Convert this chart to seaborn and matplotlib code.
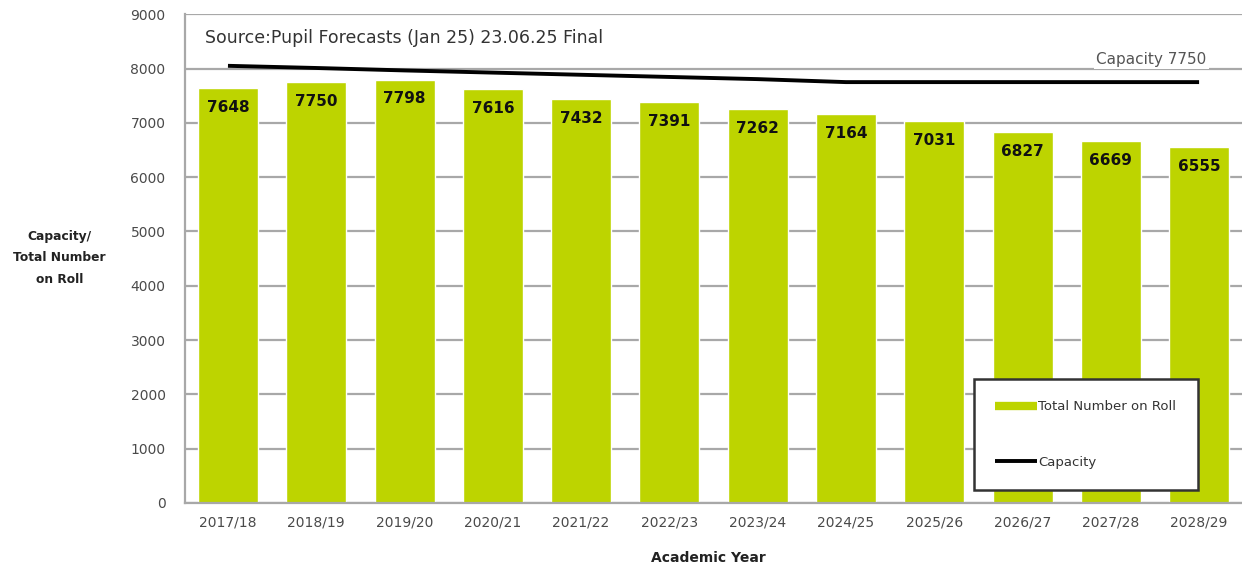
import matplotlib
matplotlib.use("Agg")
import matplotlib.pyplot as plt
from matplotlib.lines import Line2D
import seaborn as sns
import pandas as pd

years = ["2017/18", "2018/19", "2019/20", "2020/21", "2021/22", "2022/23",
         "2023/24", "2024/25", "2025/26", "2026/27", "2027/28", "2028/29"]
total_on_roll = [7648, 7750, 7798, 7616, 7432, 7391, 7262, 7164, 7031, 6827, 6669, 6555]
capacity = [8050, 8010, 7965, 7925, 7885, 7845, 7805, 7750, 7750, 7750, 7750, 7750]
y_ticks = [0, 1000, 2000, 3000, 4000, 5000, 6000, 7000, 8000, 9000]

BAR_GREEN = "#BDD400"
GRID_GREY = "#A8A8A8"
TEXT_GREY = "#4A4A4A"

sns.set_style("white")
plt.rcParams["font.family"] = ["DejaVu Sans"]

df = pd.DataFrame({"year": years, "roll": total_on_roll, "capacity": capacity})

fig = plt.figure(figsize=(12.42, 5.69), dpi=100)
ax = fig.add_axes([0.149, 0.116, 0.851, 0.859])

ax.set_axisbelow(True)
ax.yaxis.grid(True, color=GRID_GREY, linewidth=1.6)
ax.xaxis.grid(False)

sns.barplot(data=df, x="year", y="roll", color=BAR_GREEN, saturation=1,
            width=0.68, ax=ax, zorder=2)
ax.plot(range(len(years)), df["capacity"], color="black", linewidth=2.8,
        solid_capstyle="butt", zorder=3)

# value labels just inside the top of each bar
for i, v in enumerate(total_on_roll):
    ax.annotate(f"{v}", (i, v), xytext=(0, -14), textcoords="offset points",
                ha="center", va="center", fontsize=11, fontweight="bold",
                color="#111111", zorder=4)

ax.set_ylim(0, 9000)
ax.set_xlim(-0.486, 11.486)
ax.set_yticks(y_ticks)
ax.set_yticklabels([str(t) for t in y_ticks])
ax.tick_params(axis="y", labelsize=10, labelcolor=TEXT_GREY, length=4,
               color=GRID_GREY, width=1.2, pad=10)
ax.tick_params(axis="x", labelsize=10, labelcolor=TEXT_GREY, length=0, pad=9)
ax.set_xticks([i + 0.5 for i in range(len(years) - 1)], minor=True)
ax.tick_params(axis="x", which="minor", length=4, color=GRID_GREY, width=1.2)

for side in ["top", "right"]:
    ax.spines[side].set_visible(False)
for side in ["left", "bottom"]:
    ax.spines[side].set_color(GRID_GREY)
    ax.spines[side].set_linewidth(1.6)

ax.set_xlabel("")
ax.set_ylabel("")
fig.text(0.570, 0.019, "Academic Year", ha="center", va="center",
         fontsize=10, fontweight="bold", color="#222222")
fig.text(0.048, 0.547, "Capacity/\nTotal Number\non Roll", ha="center",
         va="center", fontsize=8.8, fontweight="bold", color="#222222",
         linespacing=1.85)

ax.text(0.019, 0.951, "Source:Pupil Forecasts (Jan 25) 23.06.25 Final",
        transform=ax.transAxes, ha="left", va="center", fontsize=12.5,
        color="#333333")
ax.text(0.862, 0.908, "Capacity 7750", transform=ax.transAxes, ha="left",
        va="center", fontsize=11, color="#555555",
        bbox=dict(facecolor="white", edgecolor="none", pad=1.5))

handles = [Line2D([0], [0], color=BAR_GREEN, linewidth=6, solid_capstyle="butt"),
           Line2D([0], [0], color="black", linewidth=2.8, solid_capstyle="butt")]
leg = ax.legend(handles, ["Total Number on Roll", "Capacity"],
                loc="lower right", bbox_to_anchor=(0.958, 0.027),
                frameon=True, fancybox=False, fontsize=9.5, labelcolor="#333333",
                handlelength=3.2, handletextpad=0.1, labelspacing=3.2,
                borderpad=1.6, borderaxespad=0)
leg.get_frame().set_edgecolor("#333333")
leg.get_frame().set_linewidth(1.8)
leg.get_frame().set_facecolor("white")
leg.get_frame().set_alpha(1)
leg.set_zorder(5)

fig.savefig("out.png", dpi=100)
